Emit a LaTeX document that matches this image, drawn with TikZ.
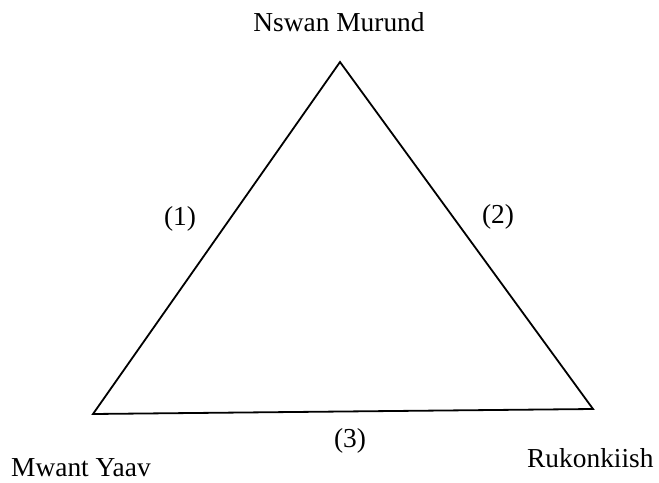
\documentclass[tikz,border=0pt]{standalone}
\usepackage{fontspec}
\setmainfont{Liberation Serif}
\begin{document}
\begin{tikzpicture}[x=1bp,y=-1bp,
  lbl/.style={inner sep=0pt,font=\fontsize{27.5}{32}\selectfont},
  edge/.style={line width=1.8bp,line join=miter}]
\useasboundingbox (0,0) rectangle (659,483);
\coordinate (top) at (340,62);
\coordinate (bl) at (93,414);
\coordinate (br) at (593,409);
\draw[edge] (top) -- (br) -- (bl) -- cycle;
\node[lbl,anchor=base] (nswan) at (339,32) {Nswan Murund};
\node[lbl,anchor=base west] (mwant) at (11,476) {Mwant Yaav};
\node[lbl,anchor=base west] (ruk) at (527,467) {Rukonkiish};
\node[lbl] (e1) at (180,219) {(1)};
\node[lbl] (e2) at (498,217) {(2)};
\node[lbl] (e3) at (350,441) {(3)};
\end{tikzpicture}
\end{document}
